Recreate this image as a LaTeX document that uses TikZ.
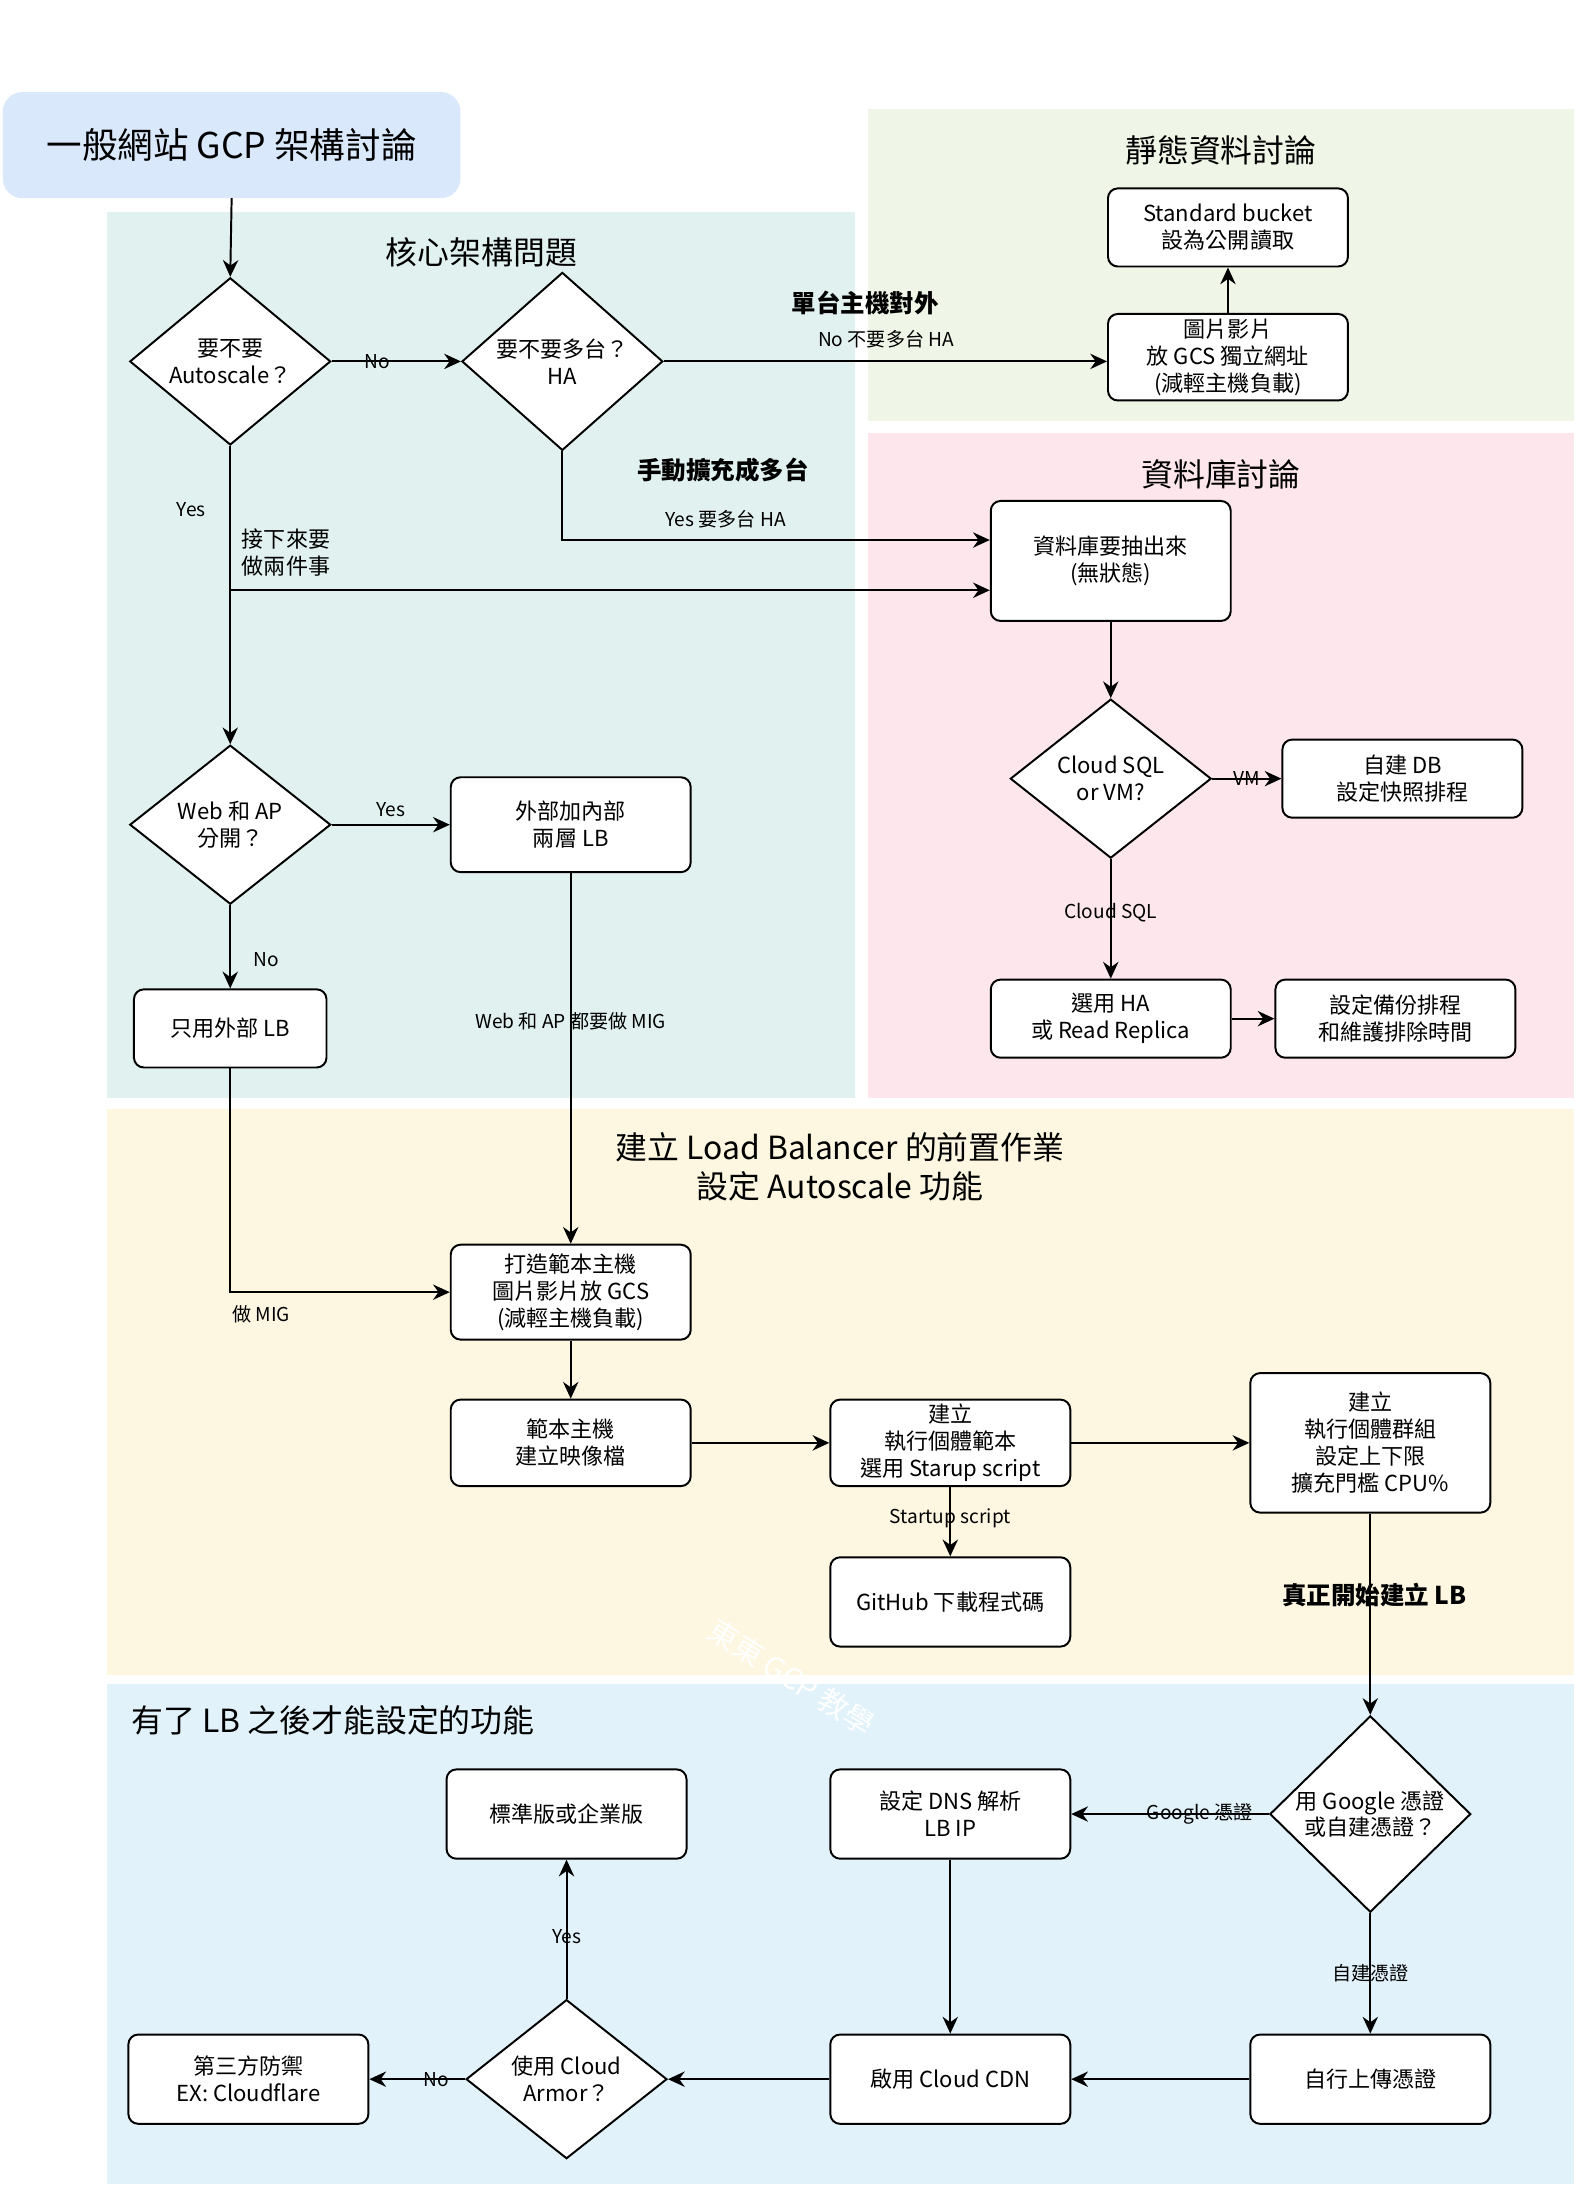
\documentclass[tikz,border=0pt]{standalone}
\usepackage{fontspec}
\setmainfont{Noto Sans CJK TC}
\usetikzlibrary{shapes.geometric,arrows.meta}
\definecolor{cTitle}{HTML}{DAE8FC}
\definecolor{cCore}{HTML}{E0F1EF}
\definecolor{cStatic}{HTML}{EFF5E7}
\definecolor{cDB}{HTML}{FDE7EC}
\definecolor{cPrep}{HTML}{FDF6E1}
\definecolor{cAfter}{HTML}{E1F2FB}
\tikzset{
 box/.style={draw,rounded corners=4pt,thick,fill=white,minimum width=3.44cm,minimum height=1.24cm,align=center,font=\fontsize{9}{11}\selectfont,inner sep=1pt},
 dia/.style={draw,diamond,thick,fill=white,minimum width=2.88cm,minimum height=2.28cm,inner sep=0pt,align=center,font=\fontsize{9}{11}\selectfont},
 arr/.style={thick,-{Stealth[length=2.4mm,width=2.2mm]}},
 lab/.style={font=\fontsize{7.8}{9.5}\selectfont,align=center,inner sep=1pt},
 blab/.style={font=\bfseries\fontsize{10}{12}\selectfont,align=center},
 rtitle/.style={font=\fontsize{13}{16}\selectfont,align=center}
}
\begin{document}
\begin{tikzpicture}[x=0.02cm,y=-0.02cm]
\useasboundingbox[fill=white] (0,0) rectangle (1130,1568);
% regions
\fill[cCore] (77,152) rectangle (613,787);
\fill[cStatic] (622,78) rectangle (1128,302);
\fill[cDB] (622,310) rectangle (1128,787);
\fill[cPrep] (77,795) rectangle (1128,1200);
\fill[cAfter] (77,1207) rectangle (1128,1565);
\fill[cTitle,rounded corners=8pt] (2,66) rectangle (330,142);
\node[font=\fontsize{14.5}{17}\selectfont] (title) at (166,104) {一般網站 GCP 架構討論};
\node[rtitle] (t1) at (345,181) {核心架構問題};
\node[rtitle] (t2) at (875,108) {靜態資料討論};
\node[rtitle] (t3) at (875,340) {資料庫討論};
\node[rtitle] (t4) at (602,836) {建立 Load Balancer 的前置作業\\設定 Autoscale 功能};
\node[rtitle,anchor=west] (t5) at (88,1233) {有了 LB 之後才能設定的功能};
\node[rotate=-32,text=white,font=\fontsize{12}{14}\selectfont] (wm) at (567,1202) {東東 GCP 教學};
% nodes
\node[dia] (d1) at (165,259) {要不要\\Autoscale？};
\node[dia] (d2) at (403,259) {要不要多台？\\HA};
\node[box,minimum height=1.12cm] (sb) at (880,163) {Standard bucket\\設為公開讀取};
\node[box] (img) at (880,256) {圖片影片\\放 GCS 獨立網址\\(減輕主機負載)};
\node[box,minimum height=1.72cm] (db) at (796,402) {資料庫要抽出來\\(無狀態)};
\node[dia] (d3) at (796,558) {Cloud SQL\\or VM?};
\node[box,minimum height=1.12cm] (selfdb) at (1005,558) {自建 DB\\設定快照排程};
\node[box,minimum height=1.12cm] (ha) at (796,730) {選用 HA\\或 Read Replica};
\node[box,minimum height=1.12cm] (bk) at (1000,730) {設定備份排程\\和維護排除時間};
\node[dia] (d4) at (165,591) {Web 和 AP\\分開？};
\node[box,minimum height=1.36cm] (twolb) at (409,591) {外部加內部\\兩層 LB};
\node[box,minimum width=2.76cm,minimum height=1.12cm] (extlb) at (165,737) {只用外部 LB};
\node[box,minimum height=1.36cm] (tpl) at (409,926) {打造範本主機\\圖片影片放 GCS\\(減輕主機負載)};
\node[box] (img2) at (409,1034) {範本主機\\建立映像檔};
\node[box] (it) at (681,1034) {建立\\執行個體範本\\選用 Starup script};
\node[box,minimum height=2cm] (mig) at (982,1034) {建立\\執行個體群組\\設定上下限\\擴充門檻 CPU\%};
\node[box,minimum height=1.28cm] (gh) at (681,1148) {GitHub 下載程式碼};
\node[dia] (d5) at (982,1300) {用 Google 憑證\\或自建憑證？};
\node[box,minimum height=1.28cm] (dns) at (681,1300) {設定 DNS 解析\\LB IP};
\node[box,minimum height=1.28cm] (std) at (406,1300) {標準版或企業版};
\node[box,minimum height=1.28cm] (up) at (982,1490) {自行上傳憑證};
\node[box,minimum height=1.28cm] (cdn) at (681,1490) {啟用 Cloud CDN};
\node[dia] (d6) at (406,1490) {使用 Cloud\\Armor？};
\node[box,minimum height=1.28cm] (cf) at (178,1490) {第三方防禦\\EX: Cloudflare};
% edges
\draw[arr] (166,142) -- (d1.north);
\draw[arr] (d1.east) -- node[lab,pos=0.35]{No} (d2.west);
\draw[arr] (d2.east) -- (d2.east -| img.west);
\node[lab] (l1) at (635,243) {No 不要多台 HA};
\node[blab] (b1) at (620,217) {單台主機對外};
\draw[arr] (img.north) -- (sb.south);
\coordinate (c1) at (403,387);
\draw[arr] (d2.south) -- (c1) -- (c1 -| db.west);
\node[lab] (l2) at (520,372) {Yes 要多台 HA};
\node[blab] (b2) at (518,337) {手動擴充成多台};
\draw[arr] (d1.south) -- (d4.north);
\node[lab] (l3) at (137,365) {Yes};
\node[lab,font=\fontsize{9}{11}\selectfont] (l4) at (205,396) {接下來要\\做兩件事};
\coordinate (c2) at (165,423);
\draw[arr] (c2) -- (c2 -| db.west);
\draw[arr] (db.south) -- (d3.north);
\draw[arr] (d3.east) -- node[lab]{VM} (selfdb.west);
\draw[arr] (d3.south) -- node[lab,pos=0.45]{Cloud SQL} (ha.north);
\draw[arr] (ha.east) -- (bk.west);
\draw[arr] (d4.east) -- node[lab,above=2pt]{Yes} (twolb.west);
\draw[arr] (d4.south) -- node[lab,right=8pt,pos=0.65]{No} (extlb.north);
\draw[arr] (twolb.south) -- node[lab,pos=0.4]{Web 和 AP 都要做 MIG} (tpl.north);
\coordinate (c3) at (165,926);
\draw[arr] (extlb.south) -- (c3) -- (tpl.west);
\node[lab] (l5) at (187,942) {做 MIG};
\draw[arr] (tpl.south) -- (img2.north);
\draw[arr] (img2.east) -- (it.west);
\draw[arr] (it.east) -- (mig.west);
\draw[arr] (it.south) -- node[lab,pos=0.45]{Startup script} (gh.north);
\draw[arr] (mig.south) -- (d5.north);
\node[blab] (b3) at (985,1143) {真正開始建立 LB};
\draw[arr] (d5.west) -- node[lab,pos=0.35]{Google 憑證} (dns.east);
\draw[arr] (d5.south) -- node[lab]{自建憑證} (up.north);
\draw[arr] (dns.south) -- (cdn.north);
\draw[arr] (up.west) -- (cdn.east);
\draw[arr] (cdn.west) -- (d6.east);
\draw[arr] (d6.north) -- node[lab,pos=0.45]{Yes} (std.south);
\draw[arr] (d6.west) -- node[lab,pos=0.3]{No} (cf.east);
\end{tikzpicture}
\end{document}
